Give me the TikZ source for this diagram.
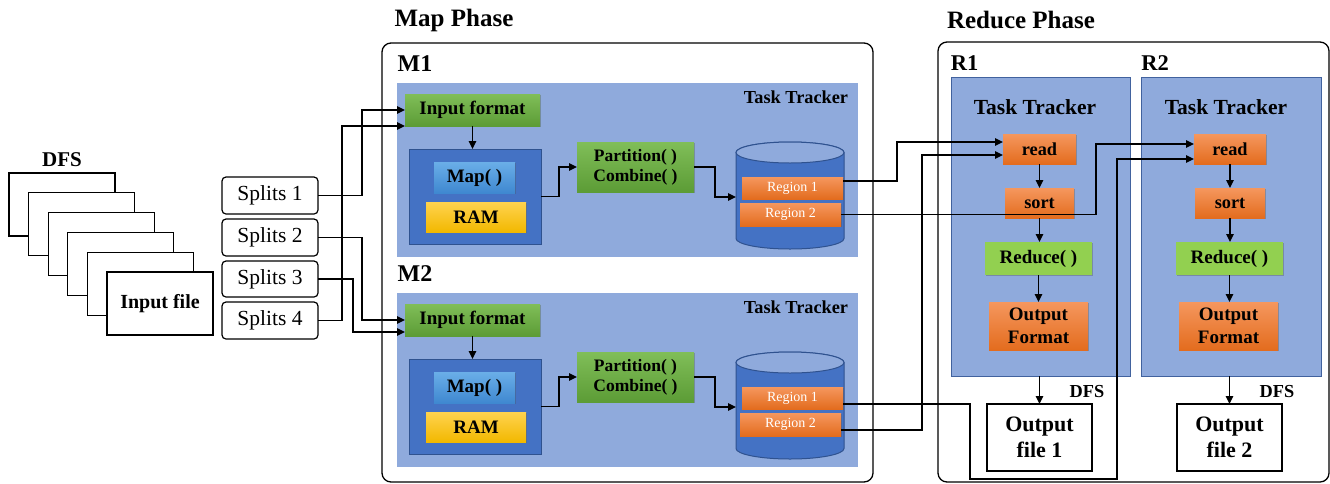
\documentclass[tikz,border=0pt]{standalone}
\usepackage{fontspec}
\setmainfont{Liberation Serif}
\usetikzlibrary{arrows.meta,shadows,calc}
\definecolor{trk}{HTML}{8FAADC}
\definecolor{trkB}{HTML}{41629E}
\definecolor{mcont}{HTML}{4472C4}
\definecolor{mcontB}{HTML}{2F528F}
\definecolor{mapT}{HTML}{6AAEE8}
\definecolor{mapB}{HTML}{3F88D0}
\definecolor{ramT}{HTML}{FFD34F}
\definecolor{ramB}{HTML}{F2B800}
\definecolor{gT}{HTML}{80BE58}
\definecolor{gB}{HTML}{5C9C36}
\definecolor{oT}{HTML}{F5975E}
\definecolor{oB}{HTML}{E36C1E}
\definecolor{redG}{HTML}{92D050}
\begin{document}
\begin{tikzpicture}[x=1pt,y=-1pt,
  wh/.style 2 args={minimum width=#1pt, minimum height=#2pt},
  box/.style={inner sep=0pt, outer sep=0pt, align=center, text=black},
  shd/.style={drop shadow={shadow xshift=1.3pt, shadow yshift=-1.3pt, opacity=0.35, fill=black!70}},
  lbl/.style={inner sep=0pt, outer sep=0pt, text=black, align=center},
  splitbox/.style={box, draw, line width=1.2pt, rounded corners=4pt, fill=white, font=\fontsize{21.5}{24}\selectfont},
  stackst/.style={draw, line width=1.2pt, fill=white},
  gbox/.style={box, shd, top color=gT, bottom color=gB},
  obox/.style={box, shd, top color=oT, bottom color=oB},
  rbox/.style={box, shd, fill=redG},
  regbox/.style={box, shd, top color=oT, bottom color=oB, text=white, font=\fontsize{14}{16}\selectfont},
  mapbox/.style={box, shd, top color=mapT, bottom color=mapB},
  rambox/.style={box, shd, top color=ramT, bottom color=ramB},
  mcontst/.style={box, fill=mcont, draw=mcontB, line width=0.8pt},
  trkM/.style={box, fill=trk},
  trkR/.style={box, fill=trk, draw=trkB, line width=0.9pt},
  filebox/.style={box, shd, fill=white, draw, line width=1.3pt},
  phase/.style={draw, line width=1.3pt, rounded corners=9pt},
  arr/.style={draw, line width=1.3pt, -{Triangle[length=8pt,width=7.5pt]}},
  ln/.style={draw, line width=1.3pt},
  f25/.style={font=\fontsize{25}{28}\selectfont\bfseries},
  f24/.style={font=\fontsize{24}{26}\selectfont\bfseries},
  f22/.style={font=\fontsize{22.5}{26}\selectfont\bfseries},
  f21/.style={font=\fontsize{21}{24}\selectfont\bfseries},
  f20/.style={font=\fontsize{20}{23}\selectfont\bfseries},
  f19/.style={font=\fontsize{19}{23}\selectfont\bfseries},
  f18/.style={font=\fontsize{18.3}{21}\selectfont\bfseries},
  f175/.style={font=\fontsize{17.5}{20}\selectfont\bfseries},
]
\useasboundingbox (0,0) rectangle (1330,483);

% ---------- DFS stack ----------
\node[lbl,f21] (dfs0) at (62,160) {DFS};
\foreach \i in {0,...,4}{
  \draw[stackst] ({9+19.6*\i},{173+19.8*\i}) rectangle ++(106,63);
}
\node[box, stackst, wh={106}{63}, f20] (infile) at (160,303.5) {Input file};

% ---------- Splits ----------
\node[splitbox, wh={96}{37}] (s1) at (270,195.5) {Splits 1};
\node[splitbox, wh={96}{37}] (s2) at (270,237.5) {Splits 2};
\node[splitbox, wh={96}{36}] (s3) at (270,279) {Splits 3};
\node[splitbox, wh={96}{37}] (s4) at (270,320.5) {Splits 4};

% ---------- Phase boxes ----------
\node[lbl,f25] (mph) at (454,20) {Map Phase};
\node[lbl,f25] (rph) at (1021,20) {Reduce Phase};
\draw[phase] (382,43) rectangle (873,482);
\draw[phase] (938,42) rectangle (1329,482);

% ---------- Map tasks ----------
\foreach \m/\dy in {1/0,2/210}{
  \node[trkM, wh={461}{174}] (tt\m) at (627.5,170+\dy) {};
  \node[lbl,f24] (ml\m) at (415,64+\dy) {M\m};
  \node[lbl,f18] (ttl\m) at (796,97.5+\dy) {Task Tracker};
  \node[gbox, wh={135}{32}, f19] (if\m) at (472.5,110+\dy) {Input format};
  \node[mcontst, wh={132}{95}] (mc\m) at (475,196.5+\dy) {};
  \node[mapbox, wh={81}{31}, f19] (mp\m) at (474.5,177.5+\dy) {Map( )};
  \node[rambox, wh={100}{30}, f19] (ram\m) at (476,217+\dy) {RAM};
  \node[gbox, wh={117}{50}, f175] (pc\m) at (635.5,167+\dy) {Partition( )\\Combine( )};
  % cylinder
  \path[fill=mcont, draw=mcontB, line width=1pt] (736,152.5+\dy) -- (736,238.5+\dy)
     arc[start angle=180, end angle=360, x radius=54pt, y radius=10.5pt]
     -- (844,152.5+\dy)
     arc[start angle=0, end angle=180, x radius=54pt, y radius=10.5pt] -- cycle;
  \filldraw[fill=trk, draw=mcontB, line width=1pt] (790,152.5+\dy) ellipse[x radius=54pt, y radius=10.5pt];
  \node[inner sep=0pt, outer sep=0pt, wh={108}{107}] (db\m) at (790,195.5+\dy) {};
  \node[regbox, wh={101}{22}] (ra\m) at (792.5,188+\dy) {Region 1};
  \node[regbox, wh={101}{23}] (rb\m) at (790.5,214.5+\dy) {Region 2};
  % internal arrows
  \draw[arr] (if\m.south) -- (if\m.south |- mc\m.north);
  \draw[arr] (mc\m.east) -- ++(18,0) |- (pc\m.west);
  \draw[arr] (pc\m.east) -- ++(21,0) |- ([yshift=-1.5pt]db\m.west);
}

% ---------- Reduce tasks ----------
\node[trkR, wh={179}{299}] (rt1) at (1040.5,226.5) {};
\node[trkR, wh={180}{299}] (rt2) at (1231,226.5) {};
\node[lbl,f22] (rl1) at (964.5,63.5) {R1};
\node[lbl,f22] (rl2) at (1155,63.5) {R2};
\node[lbl,font=\fontsize{21.5}{24}\selectfont\bfseries] (rtl1) at (1035,107) {Task Tracker};
\node[lbl,font=\fontsize{21.5}{24}\selectfont\bfseries] (rtl2) at (1226,107) {Task Tracker};

\node[obox, wh={73}{30}, f18] (rd1) at (1039.5,149) {read};
\node[obox, wh={69}{30}, f18] (so1) at (1039.5,203) {sort};
\node[rbox, wh={107}{33}, f19] (re1) at (1038.5,258.5) {Reduce( )};
\node[obox, wh={99}{48}, f19] (of1) at (1038.5,326) {Output\\Format};
\node[filebox, wh={105}{67}, font=\fontsize{22}{26}\selectfont\bfseries] (fo1) at (1039.5,437.5) {Output\\file 1};
\node[lbl,f18] (dfs1) at (1087,392) {DFS};

\node[obox, wh={72}{30}, f18] (rd2) at (1230,149) {read};
\node[obox, wh={70}{30}, f18] (so2) at (1230,203) {sort};
\node[rbox, wh={107}{33}, f19] (re2) at (1229.5,258.5) {Reduce( )};
\node[obox, wh={99}{48}, f19] (of2) at (1228.5,326) {Output\\Format};
\node[filebox, wh={105}{67}, font=\fontsize{22}{26}\selectfont\bfseries] (fo2) at (1229.5,437.5) {Output\\file 2};
\node[lbl,f18] (dfs2) at (1277,392) {DFS};

\foreach \k in {1,2}{
  \draw[arr] (rd\k.south) -- (rd\k.south |- so\k.north);
  \draw[arr] (so\k.south) -- (so\k.south |- re\k.north);
  \draw[arr] (re\k.south) -- (re\k.south |- of\k.north);
  \draw[arr] (rt\k.south -| fo\k.north) -- (fo\k.north);
}

% ---------- Splits to Input format ----------
\draw[arr] (s1.east) -- ++(44,0) |- (if1.west);
\draw[arr] (s4.east) -- ++(24,0) |- ([yshift=-16pt]if1.west);
\draw[arr] (s2.east) -- ++(44,0) |- (if2.west);
\draw[arr] (s3.east) -- ++(35,0) |- ([yshift=-12pt]if2.west);

% ---------- Regions to read ----------
\draw[arr] ([yshift=7pt]ra1.east) -- ++(54,0) |- ([yshift=7pt]rd1.west);
\draw[arr] (rb1.east) -- ++(255,0) |- ([yshift=5pt]rd2.west);
\draw[arr] ([yshift=-6pt]ra2.east) -- ++(127,0) -- ++(0,75) -- ++(147,0) |- ([yshift=-10pt]rd2.west);
\draw[arr] ([yshift=-5.5pt]rb2.east) -- ++(81,0) |- ([yshift=-6pt]rd1.west);
\end{tikzpicture}
\end{document}
